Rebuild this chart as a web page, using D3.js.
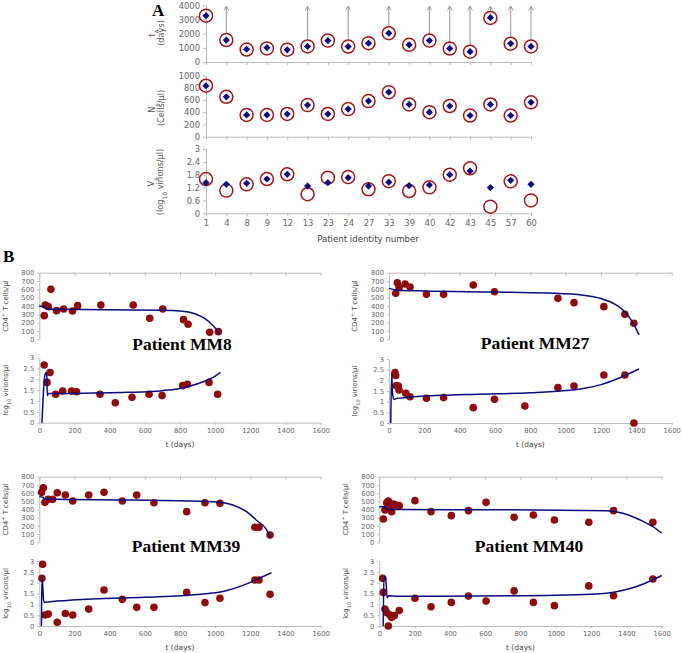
<!DOCTYPE html>
<html><head><meta charset="utf-8">
<script src="https://cdn.jsdelivr.net/npm/d3@7"></script>
<style>
body{margin:0;background:#fff;}
svg{display:block;}
.tick text{fill:#666;font-family:"DejaVu Sans",sans-serif;}
</style></head><body>
<svg id="c" width="683" height="653"></svg>
<script>
// ---------- Panel A data ----------
const patients = ["1","4","8","9","12","13","23","24","27","33","39","40","42","43","45","57","60"];
const tAData  = [3270,1550,880,960,870,1100,1510,1090,1330,2030,1210,1510,950,730,3110,1290,1100];
const tAModel = [3270,1550,900,1010,860,1100,1510,1090,1330,2030,1210,1510,960,730,3130,1300,1100];
const tACensored = [0,1,0,0,0,1,0,1,0,1,0,1,1,1,1,1,1];
const NsData  = [830,650,355,355,370,515,370,450,580,725,525,400,500,345,525,345,560];
const NsModel = [830,650,355,355,370,515,370,450,580,725,525,400,500,345,525,345,560];
const VsData  = [1.60,1.06,1.35,1.60,1.82,0.89,1.66,1.69,1.12,1.50,1.04,1.21,1.80,2.10,0.31,1.49,0.60];
const VsModel = [1.43,1.35,1.40,1.60,1.82,1.27,1.43,1.66,1.27,1.45,1.29,1.32,1.80,1.97,1.20,1.54,1.35];
const tATicks = [0,1000,2000,3000,4000];
const NsTicks = [0,200,400,600,800,1000];
const VsTicks = [0,0.6,1.2,1.8,2.4,3];

// ---------- Panel B data ----------
const dayTicks = [0,200,400,600,800,1000,1200,1400,1600];
const cd4Ticks = [0,100,200,300,400,500,600,700,800];
const vTicks = [0,0.5,1,1.5,2,2.5,3];

const mm8CD4Days = [28,34,51,66,98,138,189,218,350,534,628,702,820,846,969,1018];
const mm8CD4Vals = [284,412,392,600,344,364,340,404,412,412,252,364,236,180,84,92];
const mm8CD4ModelDays = [0,30,45,100,400,700,800,880,940,980,1010,1025];
const mm8CD4ModelVals = [400,385,365,360,355,350,340,310,250,180,110,60];
const mm8VDays = [28,44,61,93,133,184,212,345,432,527,624,698,815,842,965,1014];
const mm8VVals = [2.66,1.86,2.32,1.31,1.46,1.46,1.43,1.31,0.92,1.17,1.31,1.25,1.71,1.77,1.86,1.31];
const mm8VModelDays = [15,22,30,38,42,46,52,100,300,500,700,800,900,1000,1030];
const mm8VModelVals = [0,1.2,2.1,2.3,2.2,1.25,1.35,1.35,1.37,1.4,1.48,1.58,1.8,2.15,2.32];

const mm27CD4Days = [38,47,57,91,119,212,309,477,597,956,1047,1216,1335,1386];
const mm27CD4Vals = [552,680,620,664,628,540,540,652,572,492,440,392,300,192];
const mm27CD4ModelDays = [0,50,200,600,900,1100,1200,1280,1340,1380,1415];
const mm27CD4ModelVals = [612,590,580,568,555,530,490,420,320,200,52];
const mm27VDays = [34,38,42,53,57,95,119,212,309,477,597,769,956,1047,1216,1335,1386];
const mm27VVals = [2.36,2.23,1.75,1.73,1.55,1.39,1.23,1.16,1.19,0.72,1.11,0.80,1.66,1.73,2.25,2.25,0.0];
const mm27VModelDays = [10,15,20,28,40,100,300,500,800,1000,1100,1200,1300,1415];
const mm27VModelVals = [0,2.35,1.4,1.1,1.15,1.2,1.3,1.35,1.42,1.52,1.62,1.8,2.1,2.53];

const mm39CD4Days = [13,23,32,51,76,102,148,190,281,368,472,554,652,838,942,1027,1226,1249,1312];
const mm39CD4Vals = [609,666,487,524,524,605,577,504,577,609,504,577,483,374,483,475,183,183,89];
const mm39CD4ModelDays = [0,20,30,100,540,990,1100,1180,1240,1290,1315];
const mm39CD4ModelVals = [557,550,530,525,516,496,455,370,260,160,50];
const mm39VDays = [15,19,32,51,102,148,190,281,368,472,554,652,838,942,1027,1226,1249,1312];
const mm39VVals = [2.2,2.85,0.51,0.55,0.17,0.58,0.51,0.78,1.66,1.23,0.86,0.86,1.55,1.08,1.28,2.12,2.12,1.46];
const mm39VModelDays = [12,15,20,25,30,100,300,600,900,1050,1150,1250,1320];
const mm39VModelVals = [0,2.3,1.8,1.15,1.1,1.15,1.25,1.33,1.45,1.6,1.85,2.2,2.46];

const mm40CD4Days = [23,32,42,51,60,70,79,93,113,202,293,408,505,605,764,873,992,1187,1327,1550];
const mm40CD4Vals = [284,394,483,504,455,374,467,455,447,508,374,325,386,487,305,333,272,244,386,244];
const mm40CD4ModelDays = [0,30,45,100,700,1290,1380,1450,1500,1550,1600];
const mm40CD4ModelVals = [435,435,402,400,396,386,355,300,250,190,110];
const mm40VDays = [19,23,32,42,51,60,70,85,113,202,293,408,505,605,764,873,992,1187,1327,1550];
const mm40VVals = [2.2,1.55,0.78,0.62,0.0,0.51,0.40,0.48,0.71,1.28,0.89,1.09,1.38,1.15,1.62,1.09,0.94,1.85,1.40,2.17];
const mm40VModelDays = [22,27,35,45,52,100,500,1000,1200,1300,1400,1500,1600];
const mm40VModelVals = [0,2.25,2.28,1.3,1.4,1.37,1.38,1.42,1.47,1.52,1.68,1.95,2.33];

// ---------- styles ----------
const axisCol = "#bbbbbb", textCol = "#666", redCol = "#8e0c0c", circCol = "#a0161a", navy = "#0b0b7e";
const fmt = d => String(d);
const svg = d3.select("#c");
svg.append("rect").attr("width",683).attr("height",653).attr("fill","#fff");

function styleAxis(g, fs){
  g.selectAll(".domain").attr("stroke",axisCol);
  g.selectAll(".tick line").attr("stroke",axisCol);
  g.selectAll(".tick text").attr("font-size",fs).attr("fill",textCol);
}

// ---------- Panel A ----------
svg.append("text").attr("x",152).attr("y",16).attr("font-family","Liberation Serif, serif")
  .attr("font-weight","bold").attr("font-size",17).text("A");

const xA = d3.scalePoint().domain(patients).range([206,531]).padding(0);
const defs = svg.append("defs");
defs.append("marker").attr("id","arr").attr("viewBox","0 0 10 10").attr("refX",9).attr("refY",5)
  .attr("markerWidth",6).attr("markerHeight",6).attr("markerUnits","userSpaceOnUse").attr("orient","auto")
  .append("path").attr("d","M2,1 L9,5 L2,9").attr("fill","none").attr("stroke","#777").attr("stroke-width",1.2);

function panelA(y, ticks, dataVals, modelVals, showX, lbl1, lbl2, lblX, lblY){
  const gy = svg.append("g").attr("transform","translate(206,0)")
    .call(d3.axisLeft(y).tickValues(ticks).tickFormat(fmt).tickSize(3).tickSizeOuter(0).tickPadding(3));
  styleAxis(gy, 8.4);
  const gx = svg.append("g").attr("transform",`translate(0,${y(0)})`)
    .call(d3.axisBottom(xA).tickSize(3).tickSizeOuter(0).tickPadding(4));
  styleAxis(gx, 8.4);
  if(!showX) gx.selectAll(".tick text").remove();
  const lab = svg.append("text").attr("transform",`translate(${lblX},${lblY}) rotate(-90)`)
    .attr("text-anchor","middle").attr("font-family","DejaVu Sans, sans-serif").attr("font-size",8.2).attr("fill","#555");
  lab.append("tspan").attr("x",0).attr("dy",0).html(lbl1);
  lab.append("tspan").attr("x",0).attr("dy",9).html(lbl2);
  svg.append("g").selectAll("circle").data(patients).join("circle")
    .attr("cx",d=>xA(d)).attr("cy",(d,i)=>y(dataVals[i])).attr("r",6.5)
    .attr("fill","none").attr("stroke",circCol).attr("stroke-width",1.5);
  const sym = d3.symbol().type(d3.symbolSquare).size(26);
  svg.append("g").selectAll("path").data(patients).join("path")
    .attr("d",sym).attr("fill",navy)
    .attr("transform",(d,i)=>`translate(${xA(d)},${y(modelVals[i])}) rotate(45)`);
}

const yT = d3.scaleLinear().domain([0,4000]).range([62,5.3]);
const yN = d3.scaleLinear().domain([0,1000]).range([136.7,75.3]);
const yV = d3.scaleLinear().domain([0,3]).range([213.3,149]);

// arrows for censored tA
svg.append("g").selectAll("line").data(patients.filter((d,i)=>tACensored[i])).join("line")
  .attr("x1",d=>xA(d)).attr("x2",d=>xA(d))
  .attr("y1",d=>yT(tAData[patients.indexOf(d)])-6.5).attr("y2",yT(4000)+1)
  .attr("stroke","#888").attr("stroke-width",0.9).attr("marker-end","url(#arr)");

panelA(yT, tATicks, tAData, tAModel, false, "t<tspan baseline-shift='sub' font-size='6'>A</tspan>", "(days)", 155, 33);
panelA(yN, NsTicks, NsData, NsModel, false, "N<tspan baseline-shift='sub' font-size='6'>s</tspan>", "(Cells/µl)", 155, 108);
panelA(yV, VsTicks, VsData, VsModel, true, "V<tspan baseline-shift='sub' font-size='6'>s</tspan>", "(log<tspan baseline-shift='sub' font-size='6'>10</tspan> virions/µl)", 154, 182);

svg.append("text").attr("x",368).attr("y",242).attr("text-anchor","middle")
  .attr("font-family","DejaVu Sans, sans-serif").attr("font-size",8.6).attr("fill","#444")
  .text("Patient identity number");

// ---------- Panel B ----------
svg.append("text").attr("x",3).attr("y",262).attr("font-family","Liberation Serif, serif")
  .attr("font-weight","bold").attr("font-size",17).text("B");

function panelB(o){
  const x = d3.scaleLinear().domain([0,1600]).range([o.x0,o.x1]);
  const yc = d3.scaleLinear().domain([0,800]).range([o.c0,o.c800]);
  const yv = d3.scaleLinear().domain([0,3]).range([o.v0,o.v3]);
  // CD4 axes
  const gl = svg.append("g").attr("transform",`translate(${o.x0},0)`)
    .call(d3.axisLeft(yc).tickValues(cd4Ticks).tickFormat(fmt).tickSize(2).tickSizeOuter(0).tickPadding(3));
  styleAxis(gl, 6.8);
  const gt = svg.append("g").attr("transform",`translate(0,${yc(800)})`)
    .call(d3.axisTop(x).tickValues(dayTicks).tickSize(-3).tickSizeOuter(0).tickFormat(""));
  styleAxis(gt, 6.8);
  // viral axes
  const gvl = svg.append("g").attr("transform",`translate(${o.x0},0)`)
    .call(d3.axisLeft(yv).tickValues(vTicks).tickFormat(fmt).tickSize(2).tickSizeOuter(0).tickPadding(3));
  styleAxis(gvl, 6.8);
  const gvb = svg.append("g").attr("transform",`translate(0,${yv(0)})`)
    .call(d3.axisBottom(x).tickValues(dayTicks).tickFormat(fmt).tickSize(2).tickSizeOuter(0).tickPadding(3));
  styleAxis(gvb, 6.8);
  // labels
  const lc = svg.append("text").attr("transform",`translate(${o.lx},${(yc(0)+yc(800))/2}) rotate(-90)`)
    .attr("text-anchor","middle").attr("font-family","DejaVu Sans, sans-serif").attr("font-size",6.9).attr("fill","#444");
  lc.html("CD4<tspan baseline-shift='super' font-size='5'>+</tspan> T cells/µl");
  const lv = svg.append("text").attr("transform",`translate(${o.lx},${(yv(0)+yv(3))/2}) rotate(-90)`)
    .attr("text-anchor","middle").attr("font-family","DejaVu Sans, sans-serif").attr("font-size",6.9).attr("fill","#444");
  lv.html("log<tspan baseline-shift='sub' font-size='5'>10</tspan> virions/µl");
  svg.append("text").attr("x",(o.x0+o.x1)/2).attr("y",yv(0)+24).attr("text-anchor","middle")
    .attr("font-family","DejaVu Sans, sans-serif").attr("font-size",7.5).attr("fill","#444").text("t (days)");
  svg.append("text").attr("x",o.tx).attr("y",o.ty).attr("text-anchor","middle")
    .attr("font-family","Liberation Serif, serif").attr("font-weight","bold").attr("font-size",17.5)
    .text(o.title);
  // data points
  const gp = svg.append("g");
  gp.selectAll("circle.c").data(o.cd).join("circle").attr("class","c")
    .attr("cx",(d,i)=>x(d)).attr("cy",(d,i)=>yc(o.cv[i])).attr("r",3.8).attr("fill",redCol);
  gp.selectAll("circle.v").data(o.vd).join("circle").attr("class","v")
    .attr("cx",(d,i)=>x(d)).attr("cy",(d,i)=>yv(o.vv[i])).attr("r",3.8).attr("fill",redCol);
  // model lines
  const lnC = d3.line().x(d=>x(d[0])).y(d=>yc(d[1])).curve(d3.curveMonotoneX);
  const lnV = d3.line().x(d=>x(d[0])).y(d=>yv(d[1])).curve(d3.curveMonotoneX);
  svg.append("path").attr("d",lnC(d3.zip(o.cmd,o.cmv))).attr("fill","none").attr("stroke",navy).attr("stroke-width",1.5);
  svg.append("path").attr("d",lnV(d3.zip(o.vmd,o.vmv))).attr("fill","none").attr("stroke",navy).attr("stroke-width",1.5);
}

panelB({x0:39.3,x1:320.7,c0:339.3,c800:272.7,v0:422.7,v3:357.7,lx:8,tx:182,ty:350,title:"Patient MM8",
  cd:mm8CD4Days,cv:mm8CD4Vals,vd:mm8VDays,vv:mm8VVals,cmd:mm8CD4ModelDays,cmv:mm8CD4ModelVals,vmd:mm8VModelDays,vmv:mm8VModelVals});
panelB({x0:389,x1:671.7,c0:339.3,c800:272.7,v0:423,v3:359,lx:357,tx:535,ty:349,title:"Patient MM27",
  cd:mm27CD4Days,cv:mm27CD4Vals,vd:mm27VDays,vv:mm27VVals,cmd:mm27CD4ModelDays,cmv:mm27CD4ModelVals,vmd:mm27VModelDays,vmv:mm27VModelVals});
panelB({x0:39.3,x1:320.7,c0:542.3,c800:476.7,v0:626,v3:561,lx:8,tx:186,ty:552,title:"Patient MM39",
  cd:mm39CD4Days,cv:mm39CD4Vals,vd:mm39VDays,vv:mm39VVals,cmd:mm39CD4ModelDays,cmv:mm39CD4ModelVals,vmd:mm39VModelDays,vmv:mm39VModelVals});
panelB({x0:379.3,x1:661.7,c0:542.3,c800:476.7,v0:626,v3:561,lx:348,tx:529,ty:552,title:"Patient MM40",
  cd:mm40CD4Days,cv:mm40CD4Vals,vd:mm40VDays,vv:mm40VVals,cmd:mm40CD4ModelDays,cmv:mm40CD4ModelVals,vmd:mm40VModelDays,vmv:mm40VModelVals});
</script>
</body></html>
